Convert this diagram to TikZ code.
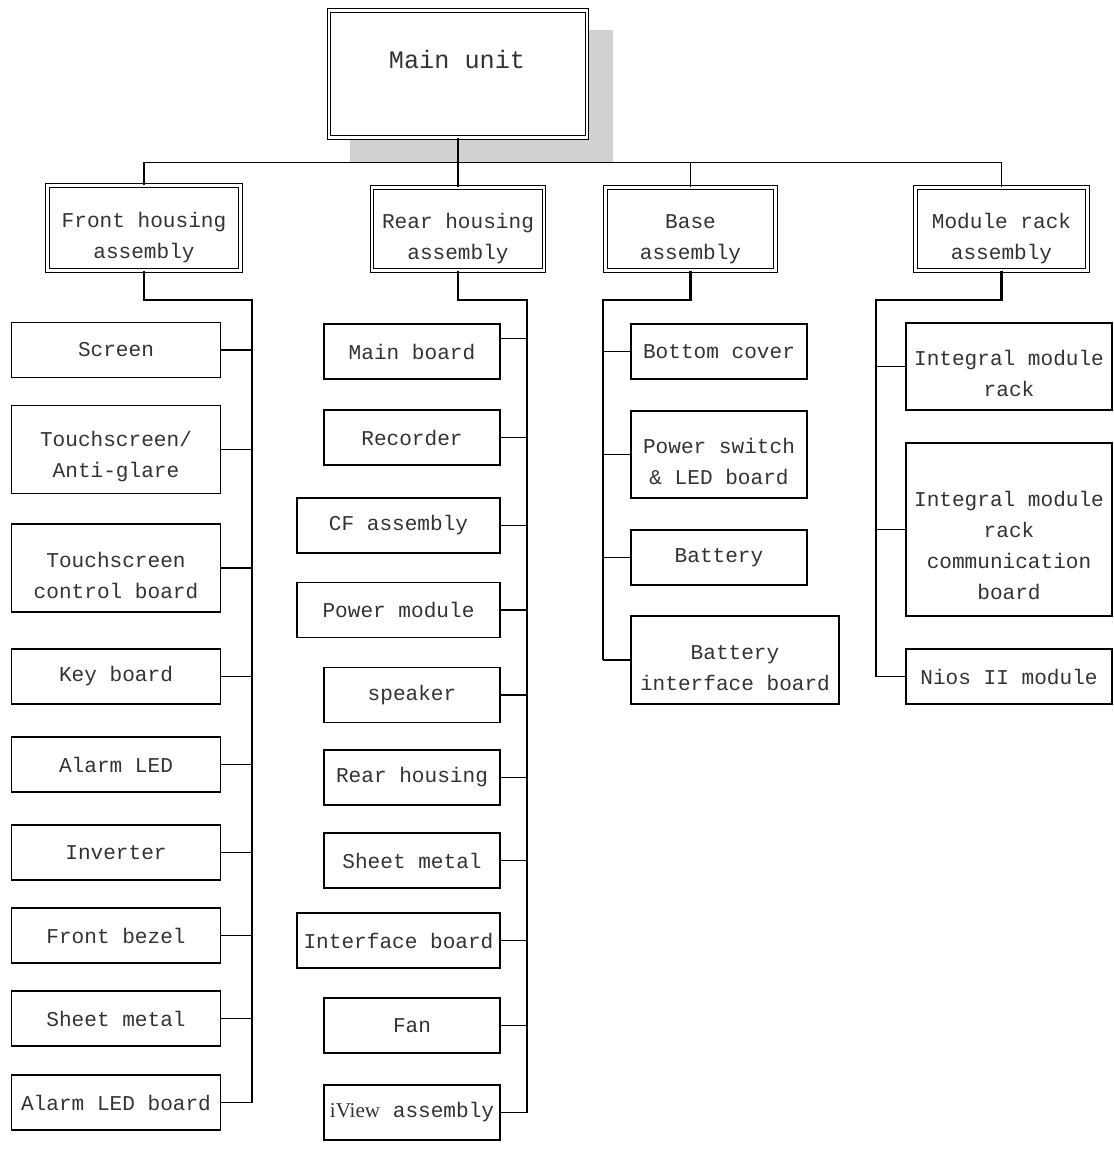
\documentclass[tikz,border=0pt]{standalone}
\usepackage{fontspec}
\usepackage{tikz}
\newfontfamily\boxfont{Liberation Mono}
\newfontfamily\serifpart{Liberation Serif}
\usetikzlibrary{positioning}
\tikzset{
  part/.style={draw, line width=0.9pt, fill=white, text=black!80, align=center,
    inner sep=0pt, font=\boxfont\fontsize{18}{26.5}\selectfont},
  group/.style={part, double, double distance=2.4pt, line width=0.8pt},
  wd/.style={minimum width=#1*0.03cm},
  ht/.style={minimum height=#1*0.03cm},
  low/.style={text height=#1},
  spine/.style={line width=1.8pt}
}

\begin{document}
\begin{tikzpicture}[x=0.03cm,y=-0.03cm,line width=0.9pt]
    \useasboundingbox (0,0) rectangle (1113,1153);
    % top level
    \fill[black!18] (350,30) rectangle (613,162);
    \node[group,wd=258,ht=127] (main) at (458,74) {};
    \node[text=black!80,font=\boxfont\fontsize{21.5}{24}\selectfont] (mainlabel) at (457,59) {Main unit};
    \node[group,low=55.5pt,wd=193,ht=85] (front) at (144,228) {Front housing\\assembly};
    \node[group,low=55.5pt,wd=172,ht=83] (rear) at (458,229) {Rear housing\\assembly};
    \node[group,low=55.5pt,wd=170,ht=83] (base) at (690.5,229) {Base\\assembly};
    \node[group,low=55.5pt,wd=172,ht=83] (module) at (1001.5,229) {Module rack\\assembly};
    \coordinate (bus) at (458,162.5);
    \draw (main.south) -- (bus) -- (rear.north);
    \draw (front.north) |- (bus) -| (module.north);
    \draw (base.north) |- (bus);
    % front housing parts
    \node[part,wd=209,ht=55] (f1) at (116,350) {Screen};
    \node[part,low=52pt,wd=209,ht=88] (f2) at (116,449.5) {Touchscreen/\\Anti-glare};
    \node[part,low=52pt,wd=209,ht=88] (f3) at (116,568) {Touchscreen\\control board};
    \node[part,wd=209,ht=55] (f4) at (116,676.5) {Key board};
    \node[part,wd=209,ht=55] (f5) at (116,764.5) {Alarm LED};
    \node[part,wd=209,ht=55] (f6) at (116,852.5) {Inverter};
    \node[part,wd=209,ht=55] (f7) at (116,935.5) {Front bezel};
    \node[part,wd=209,ht=55] (f8) at (116,1018.5) {Sheet metal};
    \node[part,wd=209,ht=55] (f9) at (116,1102.5) {Alarm LED board};
    \coordinate (fT) at (252,300);
    \draw[spine] (front.south) |- (fT) -- (fT |- f9.east);
    \foreach \n in {f1,f2,f3,f4,f5,f6,f7,f8,f9}
        \draw (\n.east) -- (\n.east -| fT);
    % rear housing parts
    \node[part,wd=176,ht=55] (r1) at (412,351.5) {Main board};
    \node[part,wd=176,ht=55] (r2) at (412,437.5) {Recorder};
    \node[part,wd=203,ht=55] (r3) at (398.5,525.5) {CF assembly};
    \node[part,wd=203,ht=55] (r4) at (398.5,610) {Power module};
    \node[part,wd=176,ht=55] (r5) at (412,695) {speaker};
    \node[part,wd=176,ht=55] (r6) at (412,777.5) {Rear housing};
    \node[part,wd=176,ht=55] (r7) at (412,860.5) {Sheet metal};
    \node[part,wd=203,ht=55] (r8) at (398.5,940.5) {Interface board};
    \node[part,wd=176,ht=55] (r9) at (412,1025.5) {Fan};
    \node[part,wd=176,ht=55] (r10) at (412,1112.5) {{\serifpart iView} assembly};
    \coordinate (rT) at (527,300);
    \coordinate (r1c) at ([yshift=0.38cm]r1.east);
    \draw[spine] (rear.south) |- (rT) -- (rT |- r10.east);
    \draw (r1c) -- (r1c -| rT);
    \foreach \n in {r2,r3,r4,r5,r6,r7,r8,r9,r10}
        \draw (\n.east) -- (\n.east -| rT);
    % base parts
    \node[part,wd=176,ht=55] (b1) at (719,351.5) {Bottom cover};
    \node[part,low=52pt,wd=176,ht=87] (b2) at (719,454.5) {Power switch\\\& LED board};
    \node[part,wd=176,ht=55] (b3) at (719,557.5) {Battery};
    \node[part,low=52pt,wd=208,ht=88] (b4) at (735,660) {Battery\\interface board};
    \coordinate (bT) at (603,300);
    \draw[spine] (base.south) |- (bT) -- (bT |- b4.west);
    \foreach \n in {b1,b2,b3,b4}
        \draw (\n.west) -- (\n.west -| bT);
    % module rack parts
    \node[part,low=52pt,wd=206,ht=87] (m1) at (1009,366.5) {Integral module\\rack};
    \node[part,low=120pt,wd=206,ht=173] (m2) at (1009,529.5) {Integral module\\rack\\communication\\board};
    \node[part,wd=206,ht=55] (m3) at (1009,676.5) {Nios II module};
    \coordinate (mT) at (876,300);
    \draw[spine] (module.south) |- (mT) -- (mT |- m3.west);
    \foreach \n in {m1,m2,m3}
        \draw (\n.west) -- (\n.west -| mT);
\end{tikzpicture}
\end{document}
